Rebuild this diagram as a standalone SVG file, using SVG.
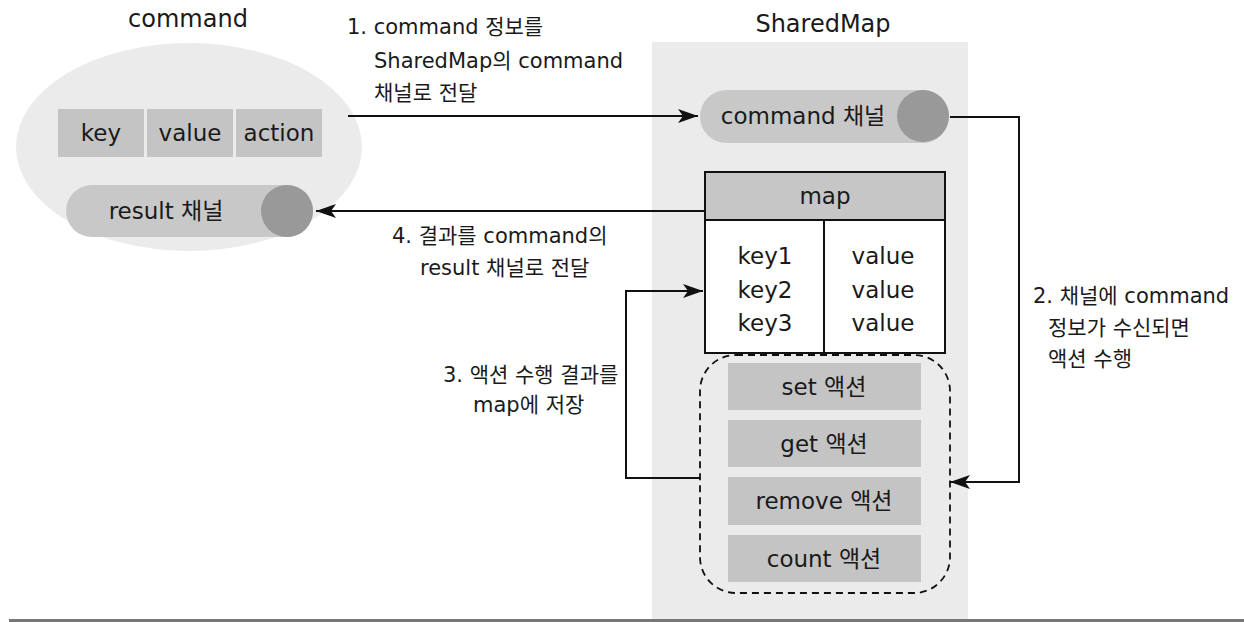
<svg xmlns="http://www.w3.org/2000/svg" width="1244" height="622" viewBox="0 0 1244 622">
<style>
text{font-family:"DejaVu Sans","Noto Sans CJK KR",sans-serif;fill:#1a1a1a}
.t{font-size:24px}
.b{font-size:23px;text-anchor:middle}
.l{font-size:21px}
.box{fill:#c4c4c4}
.pill{fill:#c8c8c8}
.dot{fill:#999}
.ln{fill:none;stroke:#111;stroke-width:2}
</style>
<defs>
<marker id="ah" markerUnits="userSpaceOnUse" markerWidth="22" markerHeight="16" refX="20" refY="8" orient="auto">
<path d="M0,1 L20,8 L0,15 L5,8 z" fill="#111"/>
</marker>
</defs>
<rect x="0" y="0" width="1244" height="622" fill="#fff"/>
<g id="sharedmap-panel">
<rect x="652" y="42" width="316" height="577" fill="#ebebeb"/>
<text class="t" x="823" y="32" text-anchor="middle">SharedMap</text>
</g>
<g id="command">
<ellipse cx="189" cy="147" rx="173" ry="104" fill="#ebebeb"/>
<text class="t" x="188" y="27" text-anchor="middle">command</text>
</g>
<g id="cmd-fields">
<rect class="box" x="58" y="109" width="86" height="48"/>
<rect class="box" x="147" y="109" width="86" height="48"/>
<rect class="box" x="236" y="109" width="86" height="48"/>
<text class="b" x="101" y="141">key</text>
<text class="b" x="190" y="141">value</text>
<text class="b" x="279" y="141">action</text>
</g>
<g id="result-channel">
<rect class="pill" x="66" y="185" width="247" height="52" rx="26"/>
<circle class="dot" cx="287" cy="211" r="26"/>
<text class="b" x="166" y="219">result 채널</text>
</g>
<g id="command-channel">
<rect class="pill" x="700" y="90" width="249" height="53" rx="26.5"/>
<circle class="dot" cx="923" cy="116" r="26"/>
<text class="b" x="803" y="124">command 채널</text>
</g>
<g id="map">
<rect x="705" y="172" width="240" height="48" fill="#c6c6c6" stroke="#111" stroke-width="2"/>
<rect x="705" y="220" width="240" height="133" fill="#fff" stroke="#111" stroke-width="2"/>
<line x1="824" y1="220" x2="824" y2="353" stroke="#111" stroke-width="2"/>
<text class="b" x="825" y="204">map</text>
<text class="b" x="765" y="264">key1</text>
<text class="b" x="765" y="298">key2</text>
<text class="b" x="765" y="331">key3</text>
<text class="b" x="883" y="264">value</text>
<text class="b" x="883" y="298">value</text>
<text class="b" x="883" y="331">value</text>
</g>
<g id="actions">
<rect x="700" y="355" width="250" height="238" rx="36" fill="none" stroke="#111" stroke-width="1.8" stroke-dasharray="7,5"/>
<rect class="box" x="728" y="363" width="193" height="47"/>
<rect class="box" x="728" y="420" width="193" height="47"/>
<rect class="box" x="728" y="477" width="193" height="48"/>
<rect class="box" x="728" y="535" width="193" height="47"/>
<text class="b" x="824" y="395">set 액션</text>
<text class="b" x="824" y="452">get 액션</text>
<text class="b" x="824" y="509">remove 액션</text>
<text class="b" x="824" y="567">count 액션</text>
</g>
<g id="connectors">
<path class="ln" d="M348,116 H698" marker-end="url(#ah)"/>
<path class="ln" d="M950,117 H1019 V482 H950" marker-end="url(#ah)"/>
<path class="ln" d="M700,478 H626 V291 H703" marker-end="url(#ah)"/>
<path class="ln" d="M705,211 H316" marker-end="url(#ah)"/>
</g>
<g id="labels">
<text class="l" x="347" y="34">1. command 정보를</text>
<text class="l" x="374" y="68">SharedMap의 command</text>
<text class="l" x="374" y="100">채널로 전달</text>
<text class="l" x="1033" y="303">2. 채널에 command</text>
<text class="l" x="1048" y="335">정보가 수신되면</text>
<text class="l" x="1048" y="366">액션 수행</text>
<text class="l" x="443" y="382">3. 액션 수행 결과를</text>
<text class="l" x="473" y="412">map에 저장</text>
<text class="l" x="392" y="243">4. 결과를 command의</text>
<text class="l" x="420" y="275">result 채널로 전달</text>
</g>
<rect x="9" y="619" width="1235" height="3" fill="#777"/>
</svg>
